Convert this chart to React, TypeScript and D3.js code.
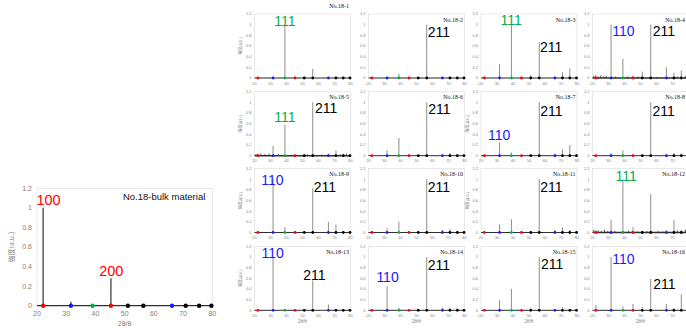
import React from "react";
import * as d3 from "d3";

// ---------- data ----------
const TWO_THETA = [22.1, 31.6, 39.0, 45.3, 51.1, 56.4, 66.2, 70.9, 75.5, 79.7];
const REF_FAMILY = ["100", "110", "111", "100", "x", "x", "110", "x", "x", "x"];
const X_TICKS = [20, 30, 40, 50, 60, 70, 80];
const Y_TICKS = [0, 0.2, 0.4, 0.6, 0.8, 1, 1.2];
const Y_TICK_LABELS = ["0", "0.2", "0.4", "0.6", "0.8", "1", "1.2"];

const BULK_TITLE = "No.18-bulk material";
const BULK_INTENSITY = [1.0, 0.04, 0, 0.28, 0, 0, 0, 0, 0, 0];
const BULK_LABELS = [
  { hkl: "100", tt: 19.8, i: 1.03, anchor: "start" },
  { hkl: "200", tt: 41.3, i: 0.3, anchor: "start" },
];

const SAMPLE_NAMES = [
  "No.18-1", "No.18-2", "No.18-3", "No.18-4",
  "No.18-5", "No.18-6", "No.18-7", "No.18-8",
  "No.18-9", "No.18-10", "No.18-11", "No.18-12",
  "No.18-13", "No.18-14", "No.18-15", "No.18-16",
];

const I_18_1 = [0, 0.02, 1.0, 0, 0.02, 0.17, 0, 0, 0, 0];
const I_18_2 = [0, 0.01, 0.08, 0, 0, 1.0, 0, 0, 0, 0];
const I_18_3 = [0, 0.26, 1.0, 0, 0.05, 0.67, 0.02, 0.11, 0.18, 0];
const I_18_4 = [0.06, 1.0, 0.36, 0.04, 0.12, 1.0, 0.2, 0.1, 0.14, 0.05];
const I_18_5 = [0.03, 0.18, 0.58, 0.02, 0.03, 1.0, 0.04, 0.1, 0.04, 0.03];
const I_18_6 = [0.01, 0.1, 0.33, 0.02, 0.01, 1.0, 0.01, 0.05, 0.02, 0];
const I_18_7 = [0.02, 0.25, 0.06, 0.02, 0.03, 1.0, 0.04, 0.12, 0.2, 0.03];
const I_18_8 = [0.01, 0.05, 0.1, 0.02, 0.02, 1.0, 0.03, 0.05, 0.04, 0.01];
const I_18_9 = [0.01, 1.0, 0.1, 0.02, 0.02, 0.83, 0.2, 0.15, 0.03, 0.02];
const I_18_10 = [0.01, 0.08, 0.2, 0.02, 0.03, 1.0, 0.05, 0.06, 0.03, 0.02];
const I_18_11 = [0.02, 0.15, 0.25, 0.03, 0.03, 1.0, 0.05, 0.1, 0.05, 0.02];
const I_18_12 = [0.04, 0.24, 1.0, 0.1, 0.03, 0.72, 0.04, 0.23, 0.05, 0.03];
const I_18_13 = [0.02, 1.0, 0.03, 0.02, 0.02, 0.56, 0.11, 0.02, 0.01, 0.01];
const I_18_14 = [0.02, 0.45, 0.05, 0.02, 0.03, 1.0, 0.05, 0.05, 0.04, 0.02];
const I_18_15 = [0.01, 0.19, 0.4, 0.02, 0.05, 1.0, 0.02, 0.06, 0.02, 0.01];
const I_18_16 = [0.1, 1.0, 0.07, 0.12, 0.06, 0.59, 0.12, 0.04, 0.3, 0.02];
const SAMPLE_INTENSITIES = [
  I_18_1, I_18_2, I_18_3, I_18_4, I_18_5, I_18_6, I_18_7, I_18_8,
  I_18_9, I_18_10, I_18_11, I_18_12, I_18_13, I_18_14, I_18_15, I_18_16,
];

// minor baseline spikes: [2theta, intensity]
const NOISE_18_4 = [[20.8, 0.04], [23.5, 0.03], [25.2, 0.05], [27.0, 0.03], [28.6, 0.04], [34.5, 0.03], [42.0, 0.03], [48.5, 0.03], [60.0, 0.02], [73.0, 0.03], [78.0, 0.04]];
const NOISE_18_5 = [[21.0, 0.03], [24.0, 0.04], [26.5, 0.03], [29.0, 0.04], [35.0, 0.03], [43.0, 0.02], [53.0, 0.03], [62.0, 0.02], [73.5, 0.03], [77.5, 0.04]];
const NOISE_18_12 = [[20.8, 0.05], [23.5, 0.04], [25.5, 0.03], [27.5, 0.05], [29.5, 0.03], [34.0, 0.03], [42.5, 0.03], [48.0, 0.02], [54.0, 0.03], [61.0, 0.03], [64.0, 0.02], [73.0, 0.04], [78.0, 0.05]];
const SAMPLE_NOISE = [
  [], [], [], NOISE_18_4, NOISE_18_5, [], [], [],
  [], [], [], NOISE_18_12, [], [], [], [],
];

type Lbl = { hkl: string; tt: number; i: number; anchor: string };
const SAMPLE_LABELS: Lbl[][] = [
  [{ hkl: "111", tt: 39.0, i: 0.98, anchor: "middle" }],
  [{ hkl: "211", tt: 57.0, i: 0.77, anchor: "start" }],
  [{ hkl: "111", tt: 38.8, i: 0.99, anchor: "middle" }, { hkl: "211", tt: 56.8, i: 0.49, anchor: "start" }],
  [{ hkl: "110", tt: 32.3, i: 0.79, anchor: "start" }, { hkl: "211", tt: 57.6, i: 0.79, anchor: "start" }],
  [{ hkl: "111", tt: 32.4, i: 0.63, anchor: "start" }, { hkl: "211", tt: 57.8, i: 0.8, anchor: "start" }],
  [{ hkl: "211", tt: 57.4, i: 0.78, anchor: "start" }],
  [{ hkl: "110", tt: 31.3, i: 0.3, anchor: "middle" }, { hkl: "211", tt: 57.0, i: 0.74, anchor: "start" }],
  [{ hkl: "211", tt: 57.5, i: 0.74, anchor: "start" }],
  [{ hkl: "110", tt: 31.2, i: 0.9, anchor: "middle" }, { hkl: "211", tt: 57.0, i: 0.76, anchor: "start" }],
  [{ hkl: "211", tt: 57.0, i: 0.76, anchor: "start" }],
  [{ hkl: "211", tt: 57.0, i: 0.76, anchor: "start" }],
  [{ hkl: "111", tt: 41.0, i: 0.96, anchor: "middle" }],
  [{ hkl: "110", tt: 31.3, i: 0.99, anchor: "middle" }, { hkl: "211", tt: 57.5, i: 0.56, anchor: "middle" }],
  [{ hkl: "110", tt: 31.9, i: 0.53, anchor: "middle" }, { hkl: "211", tt: 57.0, i: 0.76, anchor: "start" }],
  [{ hkl: "211", tt: 57.5, i: 0.77, anchor: "start" }],
  [{ hkl: "110", tt: 32.4, i: 0.86, anchor: "start" }, { hkl: "211", tt: 58.0, i: 0.4, anchor: "start" }],
];

// ---------- styling / layout ----------
const FAMILY_COLOR: Record<string, string> = {
  "100": "#ff0000",
  "200": "#ff0000",
  "110": "#1a1aff",
  "111": "#00b050",
  x: "#000000",
};
const LABEL_COLOR: Record<string, string> = {
  "100": "#ff0000",
  "200": "#ff0000",
  "110": "#1a1aff",
  "111": "#00b050",
  "211": "#000000",
};
const COL_LEFT = [254.5, 368.5, 481, 592.5];
const ROW_TOP = [14, 91.7, 168.5, 246.3];
const SMALL_W = 96;
const SMALL_H = 64;
const Y_LABEL_PANELS = [0, 4, 6, 8, 10, 12];
const TITLE_RAISED = [0];
const SANS = "'Liberation Sans', Arial, sans-serif";

type PanelProps = {
  left: number; top: number; w: number; h: number;
  intensities: number[]; noise: number[][]; labels: Lbl[];
  big: boolean; title: string; showYLabel: boolean; showXLabel: boolean; titleRaised?: boolean;
};

function Panel(p: PanelProps) {
  const x = d3.scaleLinear().domain([20, 80]).range([p.left, p.left + p.w]);
  const y = d3.scaleLinear().domain([0, 1.2]).range([p.top + p.h, p.top]);
  const tickFs = p.big ? 7 : 4;
  const tickCol = "#7f7f7f";
  const y0 = y(0);
  const baseline = d3.line<number>().x((d) => x(d)).y(() => y0)([20, 80]) || "";
  return (
    <g>
      <rect x={x(20)} y={y(1.2)} width={x(80) - x(20)} height={y(0) - y(1.2)} fill="#fff" stroke="#d9d9d9" strokeWidth={0.6} />
      {Y_TICKS.map((t, k) => (
        <text key={"yt" + k} x={x(20) - (p.big ? 5 : 3)} y={y(t)} dy="0.35em" textAnchor="end" fontSize={tickFs} fill={tickCol} fontFamily={SANS}>
          {Y_TICK_LABELS[k]}
        </text>
      ))}
      {X_TICKS.map((t) => (
        <text key={"xt" + t} x={x(t)} y={y0 + (p.big ? 10 : 6.5)} textAnchor="middle" fontSize={tickFs} fill={tickCol} fontFamily={SANS}>
          {t}
        </text>
      ))}
      {p.noise.map((n, k) => (
        <line key={"n" + k} x1={x(n[0])} x2={x(n[0])} y1={y0} y2={y(n[1])} stroke="#222" strokeWidth={0.8} />
      ))}
      {p.intensities.map((v, k) =>
        v > 0 ? (
          <line key={"pk" + k} x1={x(TWO_THETA[k])} x2={x(TWO_THETA[k])} y1={y0} y2={y(v)} stroke={p.big ? "#505050" : "#808080"} strokeWidth={p.big ? 1.4 : 0.9} />
        ) : null
      )}
      <path d={baseline} stroke="#303030" strokeWidth={p.noise.length ? 1.6 : (p.big ? 1.3 : 1)} fill="none" />
      {TWO_THETA.map((t, k) => (
        <circle key={"m" + k} cx={x(t)} cy={y0} r={p.big ? 2.2 : 1.4} fill={FAMILY_COLOR[REF_FAMILY[k]]} />
      ))}
      {p.labels.map((l, k) => (
        <text key={"l" + k} x={x(l.tt)} y={y(l.i)} textAnchor={l.anchor as any} fontSize={p.big ? 14.5 : 14} fill={LABEL_COLOR[l.hkl]} fontFamily={SANS}>
          {l.hkl}
        </text>
      ))}
      {p.big ? (
        <text x={x(80) - 7} y={y(1.2) + 12} textAnchor="end" fontSize={9.5} fontFamily={SANS} fill="#111">
          {p.title}
        </text>
      ) : (
        <text x={Math.min(x(80) - 1.5, 685)} y={p.titleRaised ? y(1.2) - 6 : y(1.2) + 7.5} textAnchor="end" fontSize={6} fontFamily="'Liberation Serif', serif" fill="#111">
          {p.title}
        </text>
      )}
      {p.showYLabel ? (
        <text transform={`translate(${p.big ? 12 : x(20) - 13.5},${(y(0) + y(1.2)) / 2}) rotate(-90)`} textAnchor="middle" dy="0.35em" fontSize={p.big ? 7 : 4} fill={tickCol} fontFamily="'Noto Sans CJK JP', sans-serif">
          強度(a.u.)
        </text>
      ) : null}
      {p.showXLabel ? (
        <text x={(x(20) + x(80)) / 2} y={p.big ? y0 + 20 : y0 + 12.5} textAnchor="middle" fontSize={p.big ? 7 : 4.5} fill={tickCol} fontFamily={SANS}>
          2θ/θ
        </text>
      ) : null}
    </g>
  );
}

export default function App() {
  return (
    <svg width={686} height={328} style={{ position: "absolute", left: 0, top: 0, background: "#fff" }}>
      <rect width={686} height={328} fill="#fff" />
      <Panel
        left={37} top={188.3} w={175.3} h={117.4}
        intensities={BULK_INTENSITY} noise={[]} labels={BULK_LABELS}
        big={true} title={BULK_TITLE} showYLabel={true} showXLabel={true}
      />
      {SAMPLE_NAMES.map((name, idx) => {
        const col = idx % 4;
        const row = Math.floor(idx / 4);
        return (
          <Panel
            key={name}
            left={COL_LEFT[col]} top={ROW_TOP[row]} w={SMALL_W} h={SMALL_H}
            intensities={SAMPLE_INTENSITIES[idx]} noise={SAMPLE_NOISE[idx]} labels={SAMPLE_LABELS[idx]}
            big={false} title={name} showYLabel={Y_LABEL_PANELS.includes(idx)} showXLabel={row === 3}
            titleRaised={TITLE_RAISED.includes(idx)}
          />
        );
      })}
    </svg>
  );
}
